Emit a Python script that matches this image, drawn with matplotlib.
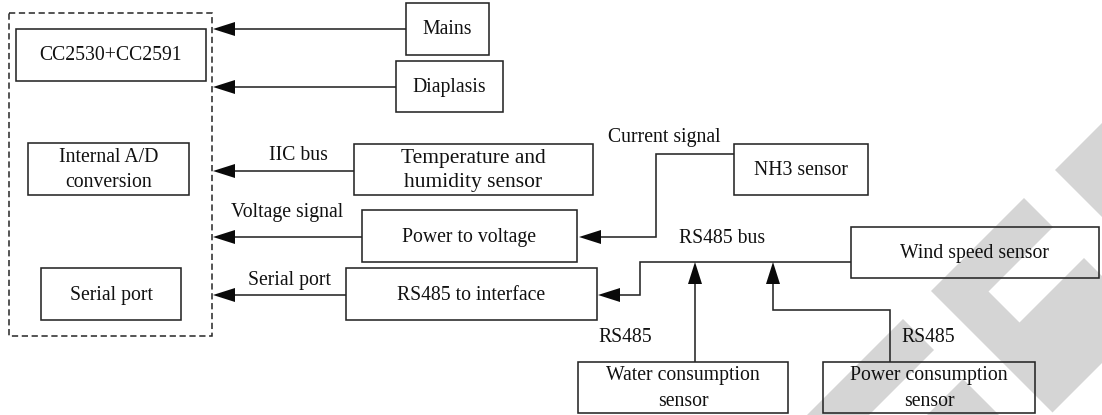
import matplotlib
matplotlib.use("Agg")
import matplotlib.pyplot as plt
from matplotlib.patches import Rectangle, Polygon

plt.rcParams['font.family'] = ['Liberation Serif', 'DejaVu Serif']
plt.rcParams['lines.scale_dashes'] = False

# ---- content ----
controller_label = "CC2530+CC2591"
adc_label = "Internal A/D\nconversion"
serial_label = "Serial port"
power_sources = ["Mains", "Diaplasis"]
temp_label = "Temperature and\nhumidity sensor"
nh3_label = "NH3 sensor"
p2v_label = "Power to voltage"
rs485if_label = "RS485 to interface"
wind_label = "Wind speed sensor"
water_label = "Water consumption\nsensor"
powercons_label = "Power consumption\nsensor"
link_labels = ["IIC bus", "Current signal", "Voltage signal", "Serial port",
               "RS485 bus", "RS485", "RS485"]

# ---- layout (pixels, y downward) ----
W, H = 1102, 415
fig = plt.figure(figsize=(W / 100, H / 100), dpi=100)
ax = fig.add_axes([0, 0, 1, 1])
ax.set_xlim(0, W)
ax.set_ylim(H, 0)
ax.axis('off')

LC = '#262626'
LW = 1.15
FS = 14.2
LS = 1.45
WM = '#d5d5d5'


# watermark, described in rotated coordinates u = x + y, v = x - y
def uv(pts):
    return [((u + v) / 2, (u - v) / 2) for u, v in pts]


wm_shapes = [
    [(1225, 885), (1225, 1100), (1400, 1100), (1400, 885)],
    [(1222, 826), (1280, 826), (1280, 697), (1342, 697), (1342, 826),
     (1465, 826), (1465, 640), (1222, 640)],
    [(1222, 584), (1284, 584), (1284, 300), (1222, 300)],
    [(1342, 584), (1465, 584), (1465, 400), (1342, 400)],
]
for p in wm_shapes:
    ax.add_patch(Polygon(uv(p), closed=True, facecolor=WM, edgecolor='none', zorder=0))


def box(x0, y0, x1, y1, text=None, fs=FS, ls=LS):
    ax.add_patch(Rectangle((x0, y0), x1 - x0, y1 - y0, fill=False, edgecolor=LC,
                           lw=LW, zorder=2))
    if text:
        ax.text((x0 + x1) / 2, (y0 + y1) / 2 + 1, text, ha='center', va='center',
                fontsize=fs, color='#111111', linespacing=ls, zorder=3)


def label(x, y, text):
    ax.text(x, y, text, ha='center', va='center', fontsize=FS, color='#111111', zorder=3)


def path(pts):
    ax.plot([p[0] for p in pts], [p[1] for p in pts], color=LC, lw=LW,
            solid_capstyle='butt', solid_joinstyle='miter', zorder=2)


def head(tip, direction, length=22, half=7):
    x, y = tip
    if direction == 'left':
        pts = [(x, y), (x + length, y - half), (x + length, y + half)]
    else:
        pts = [(x, y), (x - half, y + length), (x + half, y + length)]
    ax.add_patch(Polygon(pts, closed=True, facecolor='#0a0a0a', edgecolor='none', zorder=3))


# dashed node container
ax.add_patch(Rectangle((9, 13), 203, 323, fill=False, edgecolor=LC, lw=1.1,
                       linestyle=(0, (4.5, 2.6)), zorder=2))
box(16, 29, 206, 81, controller_label)
box(28, 143, 189, 195, adc_label)
box(41, 268, 181, 320, serial_label)

# power sources
box(406, 3, 489, 55, power_sources[0])
box(396, 61, 503, 112, power_sources[1])
path([(233, 29), (406, 29)]); head((213, 29), 'left')
path([(233, 87), (396, 87)]); head((213, 87), 'left')

# temperature sensor
box(354, 144, 593, 195, temp_label, fs=15.5, ls=1.33)
path([(233, 171), (354, 171)]); head((213, 171), 'left')
label(298, 155, link_labels[0])

# NH3 -> power to voltage
box(734, 144, 868, 195, nh3_label)
label(664, 137, link_labels[1])
path([(734, 154), (656, 154), (656, 237), (599, 237)]); head((579, 237), 'left')

box(362, 210, 577, 262, p2v_label)
path([(233, 237), (362, 237)]); head((213, 237), 'left')
label(287, 212, link_labels[2])

# RS485 to interface
box(346, 268, 597, 320, rs485if_label)
path([(233, 295), (346, 295)]); head((213, 295), 'left')
label(290, 280, link_labels[3])

# RS485 bus
box(851, 227, 1099, 278, wind_label)
path([(851, 262), (640, 262), (640, 295), (618, 295)]); head((598, 295), 'left')
label(722, 238, link_labels[4])

box(578, 362, 788, 413, water_label)
path([(695, 362), (695, 282)]); head((695, 262), 'up')
label(625, 337, link_labels[5])

box(823, 362, 1035, 413, powercons_label)
path([(890, 362), (890, 310), (773, 310), (773, 282)]); head((773, 262), 'up')
label(928, 337, link_labels[6])

fig.savefig('out.png', dpi=100)
